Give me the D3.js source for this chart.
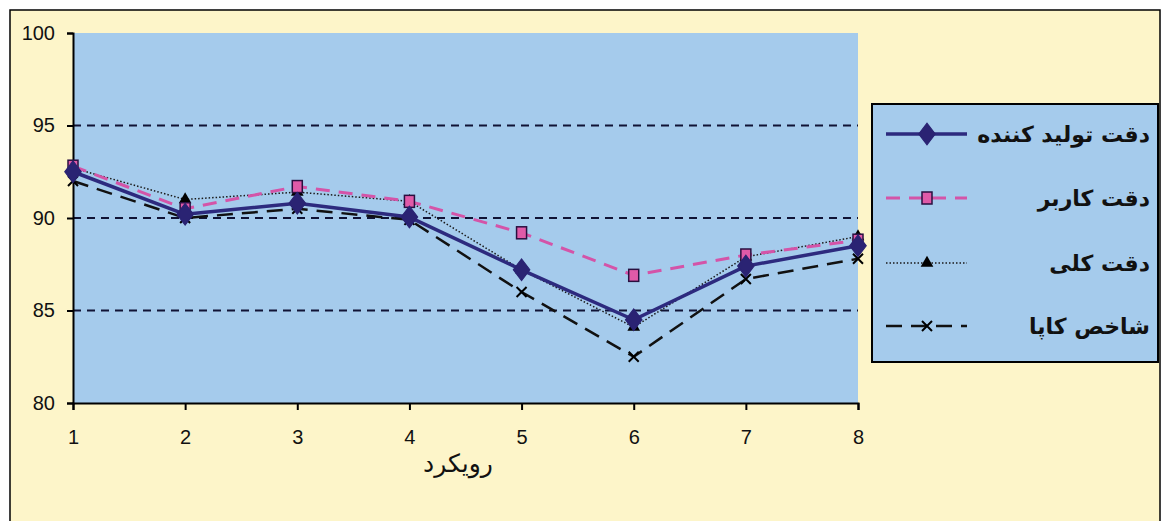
<!DOCTYPE html>
<html>
<head>
<meta charset="utf-8">
<script src="https://cdn.jsdelivr.net/npm/d3@7"></script>
<style>
  html, body { margin: 0; padding: 0; background: #ffffff; }
  svg { display: block; }
</style>
</head>
<body>
<svg id="chart" width="1163" height="521"></svg>
<script>
// Approaches along the x axis
const approaches = [1, 2, 3, 4, 5, 6, 7, 8];
const yTicks = [80, 85, 90, 95, 100];
const gridValues = [85, 90, 95];

// Accuracy series (percent)
const producerAccuracy = [92.5, 90.2, 90.8, 90.05, 87.2, 84.5, 87.4, 88.5];
const userAccuracy     = [92.8, 90.5, 91.7, 90.9, 89.2, 86.9, 88.0, 88.8];
const overallAccuracy  = [92.7, 91.0, 91.4, 90.9, 87.2, 84.1, 87.9, 89.0];
const kappaIndex       = [92.0, 90.0, 90.5, 89.9, 86.0, 82.5, 86.7, 87.8];

const seriesNames = ["دقت تولید کننده", "دقت کاربر", "دقت کلی", "شاخص کاپا"];
const xTitle = "رویکرد";

const series = [
  { name: seriesNames[0], values: producerAccuracy, color: "#2d2a7e", width: 3.5, dash: null, marker: "diamond" },
  { name: seriesNames[1], values: userAccuracy, color: "#d454a8", width: 3, dash: "14,9", marker: "square" },
  { name: seriesNames[2], values: overallAccuracy, color: "#1a1a1a", width: 1.5, dash: "1.5,2", marker: "triangle" },
  { name: seriesNames[3], values: kappaIndex, color: "#111111", width: 2.5, dash: "16,9", marker: "x" }
];

const svg = d3.select("#chart");
const W = 1163, H = 521;

// Chart background and frame
svg.append("rect").attr("x", 0).attr("y", 0).attr("width", W).attr("height", H).attr("fill", "#ffffff");
svg.append("rect").attr("x", 10).attr("y", 10).attr("width", 1150).attr("height", 520)
  .attr("fill", "#fdf5c9").attr("stroke", "#000").attr("stroke-width", 1.5);

const plot = { left: 73, right: 858, top: 33, bottom: 403 };

const x = d3.scalePoint().domain(approaches).range([plot.left, plot.right]);
const y = d3.scaleLinear().domain([80, 100]).range([plot.bottom, plot.top]);

// Plot area
svg.append("rect")
  .attr("x", plot.left).attr("y", plot.top)
  .attr("width", plot.right - plot.left).attr("height", plot.bottom - plot.top)
  .attr("fill", "#a5cbec");

// Dashed gridlines
svg.append("g").selectAll("line").data(gridValues).join("line")
  .attr("x1", plot.left).attr("x2", plot.right)
  .attr("y1", d => y(d)).attr("y2", d => y(d))
  .attr("stroke", "#101335").attr("stroke-width", 2.2).attr("stroke-dasharray", "8,6");

// Axes
const yAxis = svg.append("g").attr("transform", `translate(${plot.left},0)`)
  .call(d3.axisLeft(y).tickValues(yTicks).tickSize(6).tickPadding(12).tickFormat(d3.format("d")));
const xAxis = svg.append("g").attr("transform", `translate(0,${plot.bottom})`)
  .call(d3.axisBottom(x).tickSize(7).tickPadding(20));

[yAxis, xAxis].forEach(g => {
  g.select(".domain").attr("stroke", "#000").attr("stroke-width", 2);
  g.selectAll(".tick line").attr("stroke", "#000").attr("stroke-width", 2);
  g.selectAll("text").attr("fill", "#111").attr("font-family", "Liberation Sans, Arial, sans-serif").attr("font-size", 20);
});

// Axis title
svg.append("text")
  .attr("x", 458).attr("y", 472)
  .attr("text-anchor", "middle")
  .attr("font-family", "DejaVu Sans, sans-serif")
  .attr("font-size", 25)
  .attr("fill", "#111")
  .text(xTitle);

// Marker drawing
function drawMarker(g, type, cx, cy, color) {
  if (type === "diamond") {
    g.append("path").attr("d", d3.symbol(d3.symbolDiamond, 150)())
      .attr("transform", `translate(${cx},${cy}) scale(1.25,0.95)`).attr("fill", "#2a2373").attr("stroke", "#2a2373");
  } else if (type === "square") {
    g.append("rect").attr("x", cx - 5).attr("y", cy - 6).attr("width", 10).attr("height", 12)
      .attr("fill", "#e05aa8").attr("stroke", "#2a1040").attr("stroke-width", 1.5);
  } else if (type === "triangle") {
    g.append("path").attr("d", d3.symbol(d3.symbolTriangle, 70)())
      .attr("transform", `translate(${cx},${cy})`).attr("fill", "#000");
  } else if (type === "x") {
    const s = 5;
    g.append("path").attr("d", `M${cx - s},${cy - s}L${cx + s},${cy + s}M${cx - s},${cy + s}L${cx + s},${cy - s}`)
      .attr("stroke", "#000").attr("stroke-width", 2);
  }
}

const line = d3.line().x((d, i) => x(approaches[i])).y(d => y(d));

// Draw series from back to front
const drawOrder = [3, 2, 1, 0];
drawOrder.forEach(k => {
  const s = series[k];
  const g = svg.append("g");
  g.append("path").datum(s.values)
    .attr("d", line)
    .attr("fill", "none")
    .attr("stroke", s.color)
    .attr("stroke-width", s.width)
    .attr("stroke-dasharray", s.dash)
    .attr("stroke-linejoin", "round");
  s.values.forEach((v, i) => drawMarker(g, s.marker, x(approaches[i]), y(v), s.color));
});

// Legend
const legend = svg.append("g");
legend.append("rect").attr("x", 872).attr("y", 104).attr("width", 286).attr("height", 258)
  .attr("fill", "#a5cbec").attr("stroke", "#000").attr("stroke-width", 2);

const legendRows = [134, 198, 263, 326];
series.forEach((s, k) => {
  const ly = legendRows[k];
  legend.append("line").attr("x1", 886).attr("x2", 967).attr("y1", ly).attr("y2", ly)
    .attr("stroke", s.color).attr("stroke-width", s.width).attr("stroke-dasharray", s.dash);
  drawMarker(legend, s.marker, 927, ly, s.color);
  legend.append("text")
    .attr("x", 1150).attr("y", ly + 8)
    .attr("text-anchor", "end")
    .attr("font-family", "DejaVu Sans, sans-serif")
    .attr("font-size", 22)
    .attr("font-weight", "bold")
    .attr("fill", "#111")
    .text(s.name);
});
</script>
</body>
</html>
